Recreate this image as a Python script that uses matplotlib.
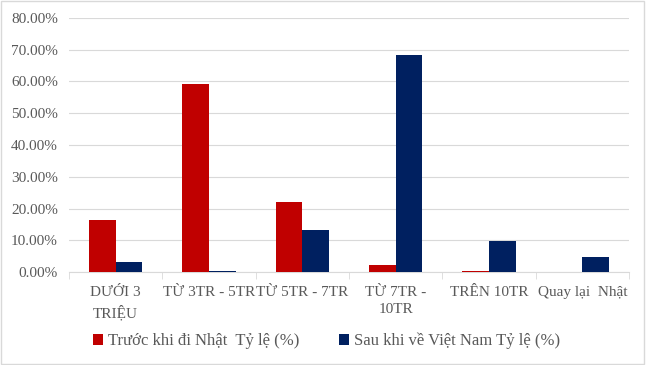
import matplotlib
matplotlib.use("Agg")
import matplotlib.pyplot as plt
import numpy as np
from matplotlib.ticker import FuncFormatter
from matplotlib.patches import Rectangle

categories = ["DƯỚI 3\nTRIỆU", "TỪ 3TR - 5TR", "TỪ 5TR - 7TR", "TỪ 7TR -\n10TR", "TRÊN 10TR", "Quay lại  Nhật"]
before = [16.4, 59.2, 22.0, 2.2, 0.3, 0.0]
after = [3.2, 0.3, 13.2, 68.3, 9.9, 4.7]
series_names = ["Trước khi đi Nhật  Tỷ lệ (%)", "Sau khi về Việt Nam Tỷ lệ (%)"]
yticks = [0, 10, 20, 30, 40, 50, 60, 70, 80]

plt.rcParams['font.family'] = ['Liberation Serif', 'DejaVu Serif']
grey = '#595959'

fig = plt.figure(figsize=(6.47, 3.65), dpi=100)
ax = fig.add_axes([69/647, 1-272/365, (629-69)/647, (272-18)/365])

x = np.arange(len(categories))
w = 0.285
ax.bar(x - w/2, before, w, color='#C00000', label=series_names[0], zorder=3)
ax.bar(x + w/2, after, w, color='#002060', label=series_names[1], zorder=3)

ax.set_xlim(-0.5, len(categories) - 0.5)
ax.set_ylim(0, 80)
ax.set_yticks(yticks)
ax.yaxis.set_major_formatter(FuncFormatter(lambda v, p: f"{v:.2f}%"))
ax.grid(axis='y', color='#D9D9D9', linewidth=0.8, zorder=0)
for s in ['top', 'right', 'left']:
    ax.spines[s].set_visible(False)
ax.spines['bottom'].set_color('#D9D9D9')
ax.tick_params(axis='y', length=0, labelsize=11, labelcolor=grey, pad=8)
ax.set_xticks(x)
ax.set_xticklabels(categories, fontsize=11, color=grey, linespacing=1.45)
ax.set_xticks(np.arange(-0.5, len(categories)), minor=True)
ax.tick_params(axis='x', which='major', length=0, pad=10)
ax.tick_params(axis='x', which='minor', length=5, color='#D9D9D9')

leg = fig.legend(loc='center', bbox_to_anchor=(0.505, 1-341/365), ncol=2, frameon=False,
                 fontsize=12, labelcolor=grey, handlelength=0.6, handleheight=0.6,
                 handletextpad=0.3, columnspacing=2.4)

fig.patches.append(Rectangle((0.002, 0.003), 0.994, 0.993, transform=fig.transFigure,
                             fill=False, edgecolor='#D9D9D9', linewidth=1))

fig.savefig("out.png", dpi=100)
